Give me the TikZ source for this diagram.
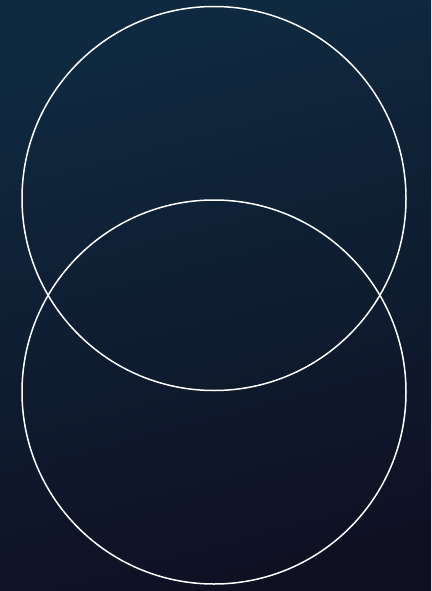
\documentclass[tikz,border=0pt]{standalone}
\definecolor{bgtop}{HTML}{0F2A40}
\definecolor{bgbot}{HTML}{0F1123}
\tikzset{ring/.style={draw=white,line width=1.5pt}}
\begin{document}
\begin{tikzpicture}[x=1pt,y=-1pt]
\useasboundingbox (0,0) rectangle (431,591);
\shade[top color=bgtop,bottom color=bgbot,shading angle=15] (0,0) rectangle (431,591);
\node[ring,circle,minimum size=384pt,inner sep=0pt] (c1) at (214,198.5) {};
\node[ring,circle,minimum size=384pt,inner sep=0pt] (c2) at (214,392) {};
\end{tikzpicture}
\end{document}
